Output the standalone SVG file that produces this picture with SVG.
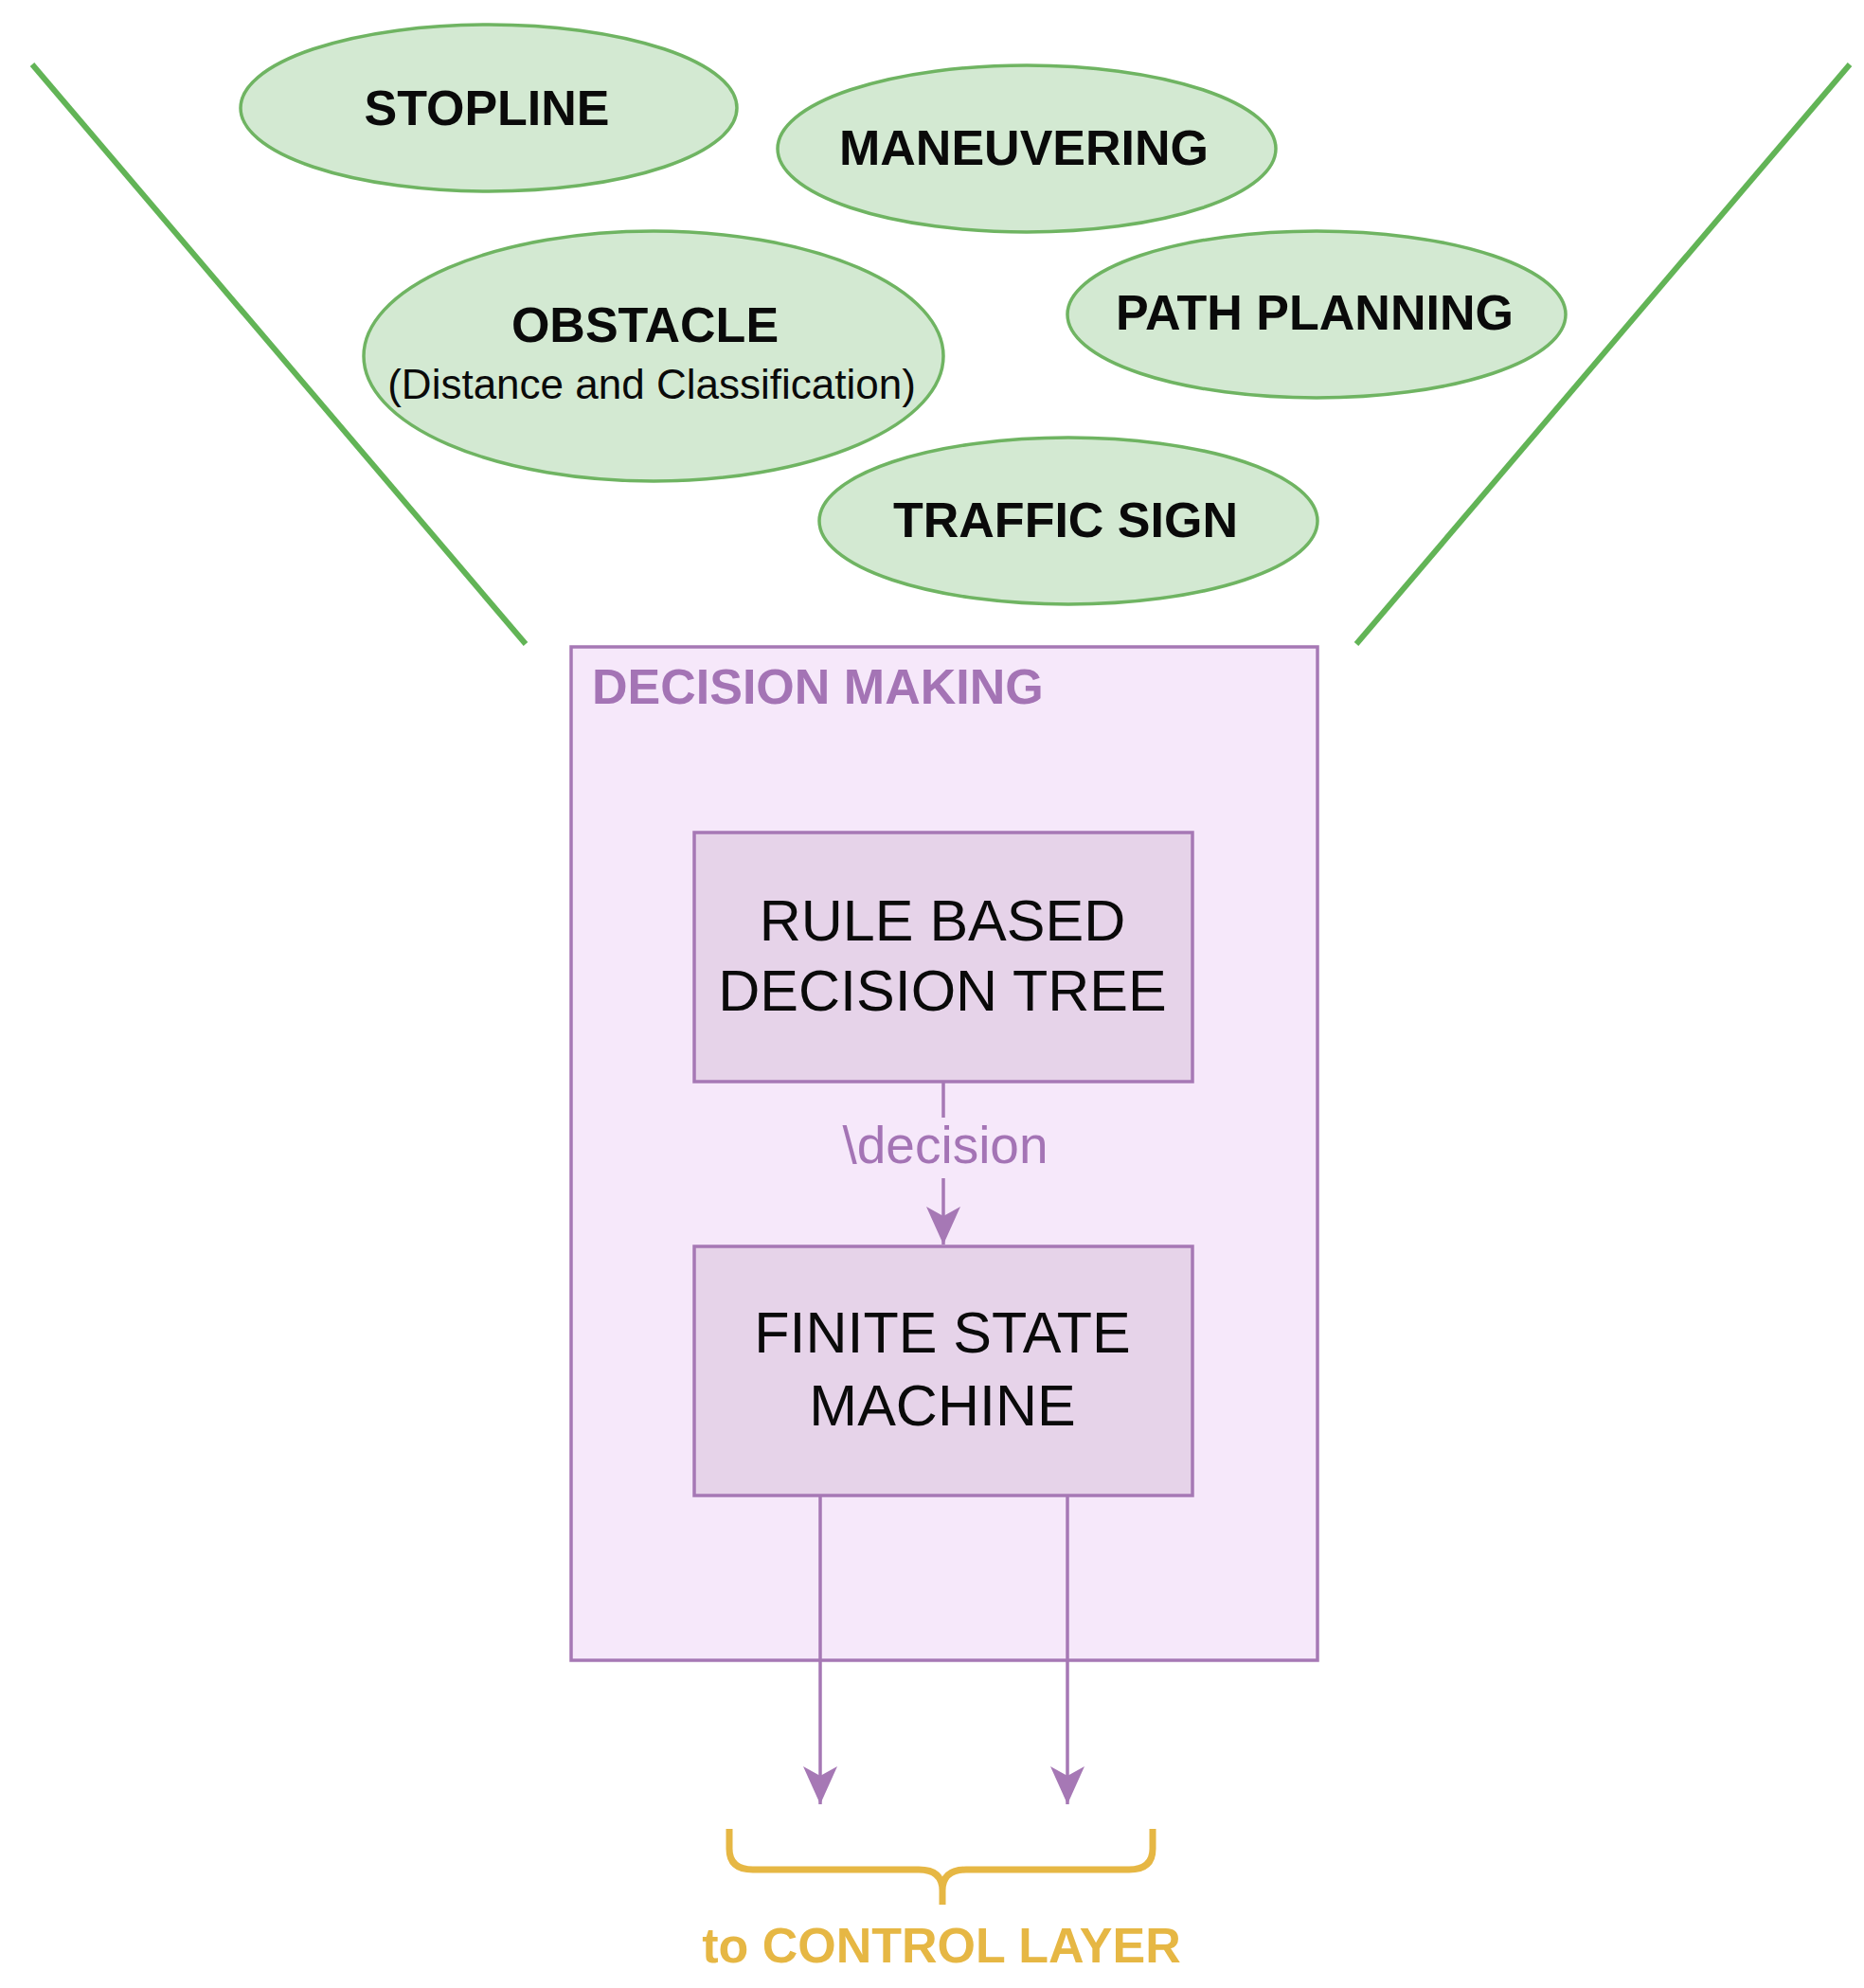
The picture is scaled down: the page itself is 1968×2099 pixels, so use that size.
<svg xmlns="http://www.w3.org/2000/svg" width="1968" height="2099" viewBox="0 0 1968 2099">
<defs>
<style>
.ell{fill:#d3e9d2;stroke:#6fb462;stroke-width:3.5}
.funnel{stroke:#62b456;stroke-width:6;fill:none}
.bold{font-family:"Liberation Sans",Arial,sans-serif;font-weight:bold;fill:#0a0a0a}
.reg{font-family:"Liberation Sans",Arial,sans-serif;fill:#0a0a0a}
.inner{fill:#e6d3e9;stroke:#a678b5;stroke-width:3.5}
.conn{stroke:#a678b5;stroke-width:3.5;fill:none}
</style>
<marker id="arr" viewBox="0 0 40 40" refX="40" refY="20" markerWidth="40" markerHeight="40" markerUnits="userSpaceOnUse" orient="auto">
<path d="M0,2 L40,20 L0,38 L10,20 Z" fill="#a678b5"/>
</marker>
</defs>
<rect width="1968" height="2099" fill="#ffffff"/>
<g id="funnel">
<line class="funnel" x1="34" y1="68" x2="555" y2="680"/>
<line class="funnel" x1="1953" y1="68" x2="1432" y2="680"/>
</g>
<g id="stopline">
<ellipse class="ell" cx="516" cy="114" rx="262" ry="88"/>
<text class="bold" x="514" y="132" font-size="52" text-anchor="middle">STOPLINE</text>
</g>
<g id="maneuvering">
<ellipse class="ell" cx="1084" cy="157" rx="263" ry="88"/>
<text class="bold" x="1081" y="174" font-size="52" text-anchor="middle">MANEUVERING</text>
</g>
<g id="obstacle">
<ellipse class="ell" cx="690" cy="376" rx="306" ry="132"/>
<text class="bold" x="681" y="361" font-size="52" text-anchor="middle">OBSTACLE</text>
<text class="reg" x="688" y="421" font-size="44" text-anchor="middle">(Distance and Classification)</text>
</g>
<g id="pathplanning">
<ellipse class="ell" cx="1390" cy="332" rx="263" ry="88"/>
<text class="bold" x="1388" y="348" font-size="52" text-anchor="middle">PATH PLANNING</text>
</g>
<g id="trafficsign">
<ellipse class="ell" cx="1128" cy="550" rx="263" ry="88"/>
<text class="bold" x="1125" y="567" font-size="52" text-anchor="middle">TRAFFIC SIGN</text>
</g>
<g id="decisionmaking">
<rect x="603" y="683" width="788" height="1070" fill="#f6e8fa" stroke="#a678b5" stroke-width="3.5"/>
<text x="625" y="743" font-family="Liberation Sans,Arial,sans-serif" font-weight="bold" font-size="52" fill="#a474b5">DECISION MAKING</text>
</g>
<g id="rulebased">
<rect class="inner" x="733" y="879" width="526" height="263"/>
<text class="reg" x="995" y="993" font-size="61" text-anchor="middle">RULE BASED</text>
<text class="reg" x="995" y="1067" font-size="61" text-anchor="middle">DECISION TREE</text>
</g>
<g id="fsm">
<rect class="inner" x="733" y="1316" width="526" height="263"/>
<text class="reg" x="995" y="1428" font-size="61" text-anchor="middle">FINITE STATE</text>
<text class="reg" x="995" y="1505" font-size="61" text-anchor="middle">MACHINE</text>
</g>
<g id="connectors">
<line class="conn" x1="996" y1="1142" x2="996" y2="1314" marker-end="url(#arr)"/>
<rect x="880" y="1180" width="232" height="64" fill="#f6e8fa"/>
<text x="998" y="1228" font-family="Liberation Sans,Arial,sans-serif" font-size="55" fill="#a474b5" text-anchor="middle">\decision</text>
<line class="conn" x1="866" y1="1579" x2="866" y2="1905" marker-end="url(#arr)"/>
<line class="conn" x1="1127" y1="1579" x2="1127" y2="1905" marker-end="url(#arr)"/>
</g>
<g id="brace">
<path d="M770,1931 L770,1952 Q770,1974 795,1974 L970,1974 Q995,1974 995,1996 L995,2011 M995,1996 Q995,1974 1020,1974 L1192,1974 Q1217,1974 1217,1952 L1217,1931" fill="none" stroke="#e6b744" stroke-width="7"/>
<text x="994" y="2072" font-family="Liberation Sans,Arial,sans-serif" font-weight="bold" font-size="52" fill="#e6b744" text-anchor="middle">to CONTROL LAYER</text>
</g>
</svg>
